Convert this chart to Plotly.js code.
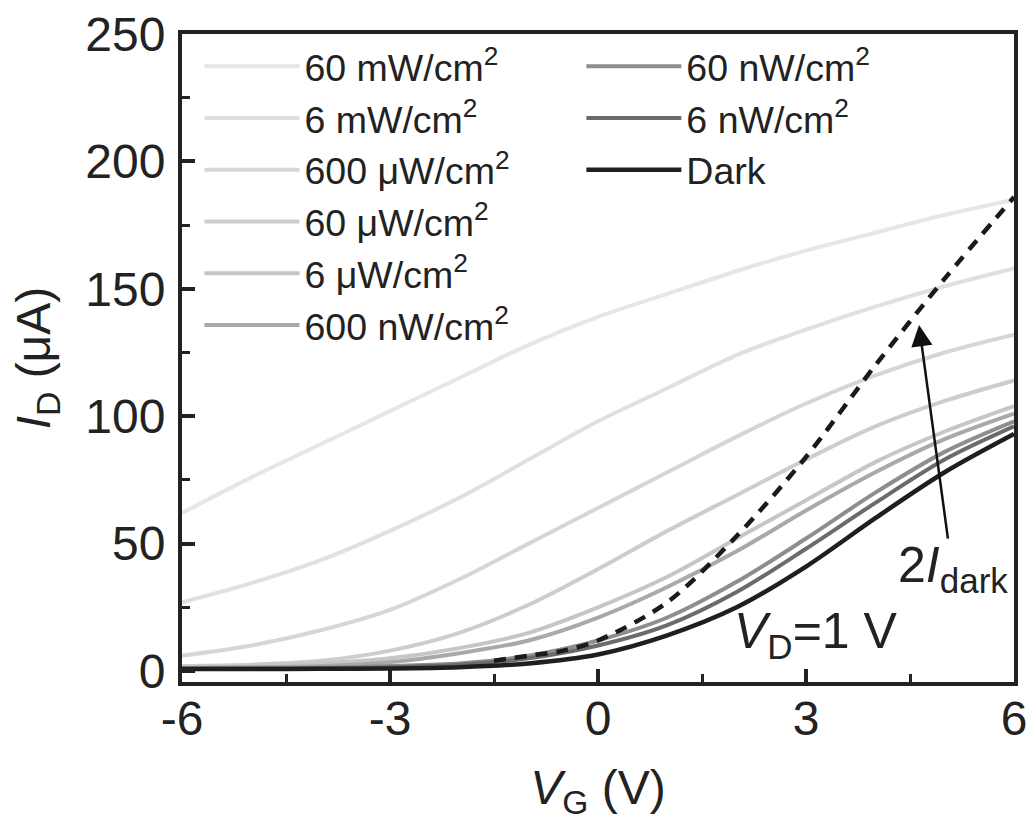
<!DOCTYPE html>
<html>
<head>
<meta charset="utf-8">
<script src="https://cdn.plot.ly/plotly-3.0.1.min.js"></script>
<style>html,body{margin:0;padding:0;background:#fff;}#chart{width:1030px;height:821px;}</style>
</head>
<body>
<div id="chart"></div>
<script>
// Gate voltage grid (V)
const vg = [-6, -5, -4, -3, -2, -1, 0, 1, 2, 3, 4, 5, 6];

// Drain current (uA) for each illumination intensity
const i60mW   = [62, 76, 89, 102, 115, 128, 139, 148, 157, 165, 172, 179, 185];
const i6mW    = [27, 34.5, 43.5, 55, 68, 83, 98, 111, 124, 134, 143, 151, 158];
const i600uW  = [6, 10, 16, 24, 36, 50, 64, 78, 92, 105, 116, 125, 132];
const i60uW   = [2, 2.5, 4, 8, 15, 26, 40, 55, 69, 83, 96, 106, 114];
const i6uW    = [1.5, 2, 3, 5, 9, 15, 25, 37, 52, 67, 82, 94, 104];
const i600nW  = [1.2, 1.5, 2, 3.5, 7, 12, 21, 33, 47, 63, 78, 91, 101];
const i60nW   = [1, 1.1, 1.3, 2, 3, 6, 12, 21, 35, 52, 70, 86, 98];
const i6nW    = [0.9, 1, 1.1, 1.5, 2.5, 5, 10, 18, 31, 48, 66, 83, 96];
const iDark   = [0.8, 0.8, 0.9, 1, 1.5, 3, 6.5, 14, 25, 41, 60, 78, 93];

// 2 x I_dark reference (dashed)
const vg2 = [-1.5, -1, -0.5, 0, 1, 2, 3, 4, 5, 6];
const i2Dark = [4, 6, 8, 12, 27, 53, 84, 120, 154, 186];

const seriesNames = ['60 mW/cm<sup>2</sup>', '6 mW/cm<sup>2</sup>', '600 μW/cm<sup>2</sup>',
  '60 μW/cm<sup>2</sup>', '6 μW/cm<sup>2</sup>', '600 nW/cm<sup>2</sup>',
  '60 nW/cm<sup>2</sup>', '6 nW/cm<sup>2</sup>', 'Dark'];
const seriesData = [i60mW, i6mW, i600uW, i60uW, i6uW, i600nW, i60nW, i6nW, iDark];
const seriesColors = ['#e6e6e6', '#e0e0e0', '#d6d6d6', '#cdcdcd', '#c6c6c6', '#a9a9a9', '#8e8e8e', '#6b6b6b', '#1f1f1f'];
const seriesLegend = ['legend', 'legend', 'legend', 'legend', 'legend', 'legend', 'legend2', 'legend2', 'legend2'];

const FONT = 'Liberation Sans, Arial, sans-serif';
const TXT = '#222222';

const traces = seriesData.map((d, k) => ({
  x: vg, y: d, type: 'scatter', mode: 'lines', name: seriesNames[k],
  line: {color: seriesColors[k], width: k === 8 ? 4.5 : 4, shape: 'spline', smoothing: 0.9},
  legend: seriesLegend[k]
}));
traces.push({
  x: vg2, y: i2Dark, type: 'scatter', mode: 'lines', name: '2I_dark', showlegend: false,
  line: {color: '#1a1a1a', width: 4.5, dash: '12px,9px', shape: 'spline', smoothing: 0.9}
});

const layout = {
  width: 1030, height: 821,
  margin: {l: 182, r: 16, t: 34, b: 139},
  paper_bgcolor: '#ffffff', plot_bgcolor: '#ffffff',
  font: {family: FONT, color: TXT},
  xaxis: {
    range: [-6, 6], tickvals: [-6, -3, 0, 3, 6], ticktext: ['-6', '-3', '0', '3', '6'],
    ticks: 'inside', ticklen: 13, tickwidth: 4, tickcolor: TXT,
    minor: {dtick: 1.5, ticks: 'inside', ticklen: 8, tickwidth: 3, tickcolor: TXT},
    showline: true, linewidth: 4, linecolor: TXT, mirror: true,
    showgrid: false, zeroline: false,
    tickfont: {size: 48, family: FONT, color: TXT}, ticklabelstandoff: -9,
    title: {text: '<i>V</i><sub>G</sub> (V)', font: {size: 48, family: FONT, color: TXT}, standoff: 33}
  },
  yaxis: {
    range: [-4.3, 250], tickvals: [0, 50, 100, 150, 200, 250],
    ticks: 'inside', ticklen: 13, tickwidth: 4, tickcolor: TXT,
    minor: {dtick: 25, ticks: 'inside', ticklen: 8, tickwidth: 3, tickcolor: TXT},
    showline: true, linewidth: 4, linecolor: TXT, mirror: true,
    showgrid: false, zeroline: false,
    tickfont: {size: 48, family: FONT, color: TXT}, ticklabelstandoff: 3,
    title: {text: '<i>I</i><sub>D</sub> (μA)', font: {size: 48, family: FONT, color: TXT}, standoff: 21}
  },
  legend: {
    x: 0.021, y: 0.998, xanchor: 'left', yanchor: 'top',
    bgcolor: 'rgba(0,0,0,0)', borderwidth: 0,
    font: {size: 37.5, family: FONT, color: TXT},
    itemwidth: 95, tracegroupgap: 0, traceorder: 'normal'
  },
  legend2: {
    x: 0.48, y: 0.998, xanchor: 'left', yanchor: 'top',
    bgcolor: 'rgba(0,0,0,0)', borderwidth: 0,
    font: {size: 37.5, family: FONT, color: TXT},
    itemwidth: 95, tracegroupgap: 0, traceorder: 'normal'
  },
  annotations: [
    {x: 3.15, y: 14.5, xref: 'x', yref: 'y', text: '<i>V</i><sub>D</sub>=1 V', showarrow: false,
     font: {size: 50, family: FONT, color: TXT}},
    {x: 5.12, y: 40.3, xref: 'x', yref: 'y', text: '2<i>I</i><sub>dark</sub>', showarrow: false,
     font: {size: 50, family: FONT, color: TXT}},
    {x: 4.63, y: 135.8, ax: 5.05, ay: 51.4, xref: 'x', yref: 'y', axref: 'x', ayref: 'y',
     text: '', showarrow: true, arrowhead: 2, arrowsize: 1.7, arrowwidth: 2.5, arrowcolor: '#111', standoff: 0}
  ],
  showlegend: true
};

Plotly.newPlot('chart', traces, layout, {staticPlot: true, displayModeBar: false});
</script>
</body>
</html>
